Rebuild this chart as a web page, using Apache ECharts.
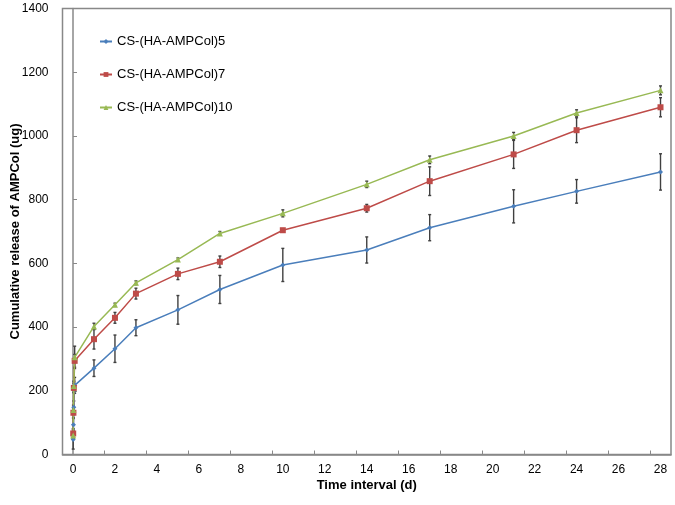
<!DOCTYPE html>
<html>
<head>
<meta charset="utf-8">
<script src="https://cdn.jsdelivr.net/npm/echarts@6/dist/echarts.min.js"></script>
<style>html,body{margin:0;padding:0;background:#fff}#c{width:675px;height:505px}</style>
</head>
<body>
<div id="c"></div>
<script>
var times = [0.01, 0.02, 0.04, 0.08, 1, 2, 3, 5, 7, 10, 14, 17, 21, 24, 28];
var seriesNames = ['CS-(HA-AMPCol)5', 'CS-(HA-AMPCol)7', 'CS-(HA-AMPCol)10'];
var blueVals = [47, 93, 148, 217, 271, 332, 398, 454, 518, 595, 642, 712, 779, 826, 887];
var blueErr  = [30, 20, 20, 25, 26, 43, 25, 45, 44, 52, 41, 41, 52, 37, 57];
var redVals  = [66, 131, 209, 294, 362, 429, 505, 567, 605, 704, 773, 858, 942, 1018, 1090];
var redErr   = [15, 15, 15, 20, 31, 17, 17, 18, 18, 5, 12, 45, 44, 39, 30];
var greenVals = [60, 140, 215, 305, 402, 470, 539, 612, 694, 757, 848, 925, 1000, 1072, 1143];
var greenErr  = [10, 15, 15, 35, 10, 5, 6, 5, 6, 11, 10, 12, 11, 10, 14];
var xLabelValues = [0, 2, 4, 6, 8, 10, 12, 14, 16, 18, 20, 22, 24, 26, 28];
var xTickValues = [1.5, 3.5, 5.5, 7.5, 9.5, 11.5, 13.5, 15.5, 17.5, 19.5, 21.5, 23.5, 25.5, 27.5];

var colors = ['#4A7EBB', '#BE4B48', '#98B954'];
var symbols = ['diamond', 'rect', 'triangle'];
var symbolSizes = [5, 6, 6];
var FONT = '"Liberation Sans", Arial, sans-serif';

function pts(vals) { return times.map(function (t, i) { return [t, vals[i]]; }); }
function errPts(vals, errs) { return times.map(function (t, i) { return [t, vals[i] - errs[i], vals[i] + errs[i]]; }); }

function errSeries(vals, errs) {
  return {
    type: 'custom',
    silent: true,
    z: 1,
    data: errPts(vals, errs),
    renderItem: function (params, api) {
      var x = api.value(0);
      var lo = api.coord([x, api.value(1)]);
      var hi = api.coord([x, api.value(2)]);
      var w = 1.5;
      var st = { stroke: '#404040', lineWidth: 1.4 };
      return {
        type: 'group',
        children: [
          { type: 'line', shape: { x1: lo[0], y1: lo[1], x2: hi[0], y2: hi[1] }, style: st },
          { type: 'line', shape: { x1: lo[0] - w, y1: lo[1], x2: lo[0] + w, y2: lo[1] }, style: st },
          { type: 'line', shape: { x1: hi[0] - w, y1: hi[1], x2: hi[0] + w, y2: hi[1] }, style: st }
        ]
      };
    }
  };
}

var allVals = [blueVals, redVals, greenVals];
var allErr = [blueErr, redErr, greenErr];
var series = [];
for (var k = 0; k < 3; k++) series.push(errSeries(allVals[k], allErr[k]));
for (var k = 0; k < 3; k++) {
  series.push({
    name: seriesNames[k],
    type: 'line',
    z: 3,
    data: pts(allVals[k]),
    symbol: symbols[k],
    symbolSize: symbolSizes[k],
    showSymbol: true,
    lineStyle: { color: colors[k], width: 1.5 },
    itemStyle: { color: colors[k] }
  });
}

var chart = echarts.init(document.getElementById('c'));
chart.setOption({
  animation: false,
  textStyle: { fontFamily: FONT },
  grid: { left: 62.5, top: 8.5, right: 4, bottom: 50.5, containLabel: false, outerBoundsMode: 'none', show: true, borderColor: '#888', borderWidth: 1.5, backgroundColor: 'transparent' },
  legend: {
    orient: 'vertical', left: 94, top: 30, itemGap: 20,
    itemWidth: 12, itemHeight: 6,
    textStyle: { fontSize: 13, color: '#000', fontFamily: FONT },
    data: seriesNames
  },
  xAxis: {
    type: 'value', min: -0.5, max: 28.5,
    name: 'Time interval (d)', nameLocation: 'middle', nameGap: 24, nameMoveOverlap: false,
    nameTextStyle: { fontSize: 13, fontWeight: 'bold', color: '#000', fontFamily: FONT },
    axisLine: { show: true, lineStyle: { color: '#888', width: 1.5 } },
    axisTick: { show: true, inside: true, length: 4, customValues: xTickValues, lineStyle: { color: '#888', width: 1 } },
    axisLabel: { customValues: xLabelValues, fontSize: 12, color: '#000', margin: 9, fontFamily: FONT, formatter: function (v) { return String(v); } },
    splitLine: { show: false }
  },
  yAxis: {
    type: 'value', min: 0, max: 1400, interval: 200,
    name: 'Cumulative release of AMPCol (ug)', nameLocation: 'middle', nameGap: 41, nameMoveOverlap: false,
    nameTextStyle: { fontSize: 13, fontWeight: 'bold', color: '#000', fontFamily: FONT },
    axisLine: { show: true, lineStyle: { color: '#888', width: 1.5 } },
    axisTick: { show: true, inside: true, length: 4, lineStyle: { color: '#888', width: 1 } },
    axisLabel: { fontSize: 12, color: '#000', margin: 14, fontFamily: FONT, formatter: function (v) { return String(v); } },
    splitLine: { show: false }
  },
  series: series
});
</script>
</body>
</html>
